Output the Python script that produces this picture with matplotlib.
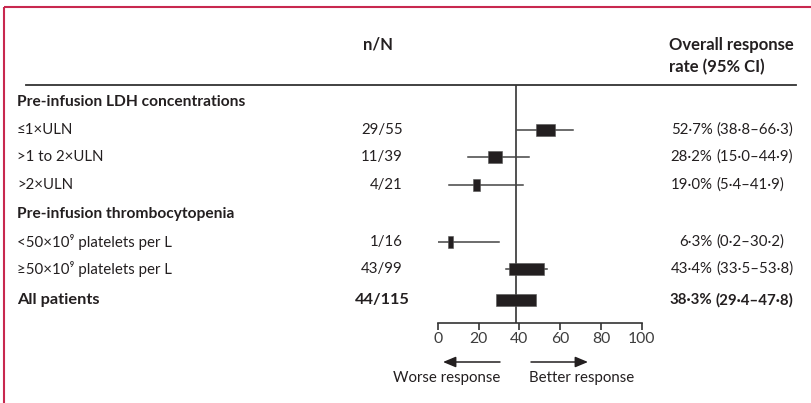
import matplotlib.pyplot as plt
from matplotlib.patches import Rectangle

plt.rcParams['font.family'] = ['Lato', 'DejaVu Sans']

# subgroup table
labels = ['Pre-infusion LDH concentrations', '≤1×ULN', '>1 to 2×ULN', '>2×ULN',
          'Pre-infusion thrombocytopenia', '<50×10⁹ platelets per L',
          '≥50×10⁹ platelets per L', 'All patients']
is_header = [True, False, False, False, True, False, False, False]
is_total = [False, False, False, False, False, False, False, True]
responders = [None, 29, 11, 4, None, 1, 43, 44]
totals = [None, 55, 39, 21, None, 16, 99, 115]
rate = [None, 52.7, 28.2, 19.0, None, 6.3, 43.4, 38.3]
ci_low = [None, 38.8, 15.0, 5.4, None, 0.2, 33.5, 29.4]
ci_high = [None, 66.3, 44.9, 41.9, None, 30.2, 53.8, 47.8]
xticks = [0, 20, 40, 60, 80, 100]

# layout (pixels, origin top-left)
W, H = 811, 403
row_y = [102, 130, 157, 185, 214, 242, 269, 300]
rule_y = 85
axis_y = 322.7
x0_px, x100_px = 437.7, 641.7
ink = '#231f20'
fs = 10.8
fs_head = 11.2
fs_total = 11.8
fs_col = 12


def fmt(v):
    return f'{v:.1f}'.replace('.', '·')


fig = plt.figure(figsize=(W / 100, H / 100), dpi=100)
bg = fig.add_axes([0, 0, 1, 1])
bg.set_xlim(0, W)
bg.set_ylim(H, 0)
bg.axis('off')

# panel frame
bg.plot([3.5, 3.5], [6.5, H], color='#c8284f', lw=1.5, solid_capstyle='butt')
bg.plot([3.5, W], [6.5, 6.5], color='#c8284f', lw=1.5, solid_capstyle='butt')

# column headers
bg.text(363, 45, 'n/N', fontsize=fs_col, fontweight='bold', color=ink, va='center')
bg.text(669, 45, 'Overall response', fontsize=fs_col, fontweight='bold', color=ink, va='center')
bg.text(669, 67, 'rate (95% CI)', fontsize=fs_col, fontweight='bold', color=ink, va='center')
bg.plot([26, 796], [rule_y, rule_y], color='#333333', lw=1.3)

for i, y in enumerate(row_y):
    if is_header[i]:
        bg.text(17, y, labels[i], fontsize=fs_head, fontweight='bold', color=ink, va='center')
        continue
    bold = 'bold' if is_total[i] else 'normal'
    size = fs_total if is_total[i] else fs
    nx = 410 if is_total[i] else 403
    bg.text(17, y, labels[i], fontsize=size, fontweight=bold, color=ink, va='center')
    bg.text(nx, y, f'{responders[i]}/{totals[i]}', fontsize=size, fontweight=bold,
            color=ink, va='center', ha='right')
    bg.text(712.5, y, fmt(rate[i]) + '%', fontsize=fs, fontweight=bold,
            color=ink, va='center', ha='right')
    bg.text(716, y, f'({fmt(ci_low[i])}–{fmt(ci_high[i])})', fontsize=fs,
            fontweight=bold, color=ink, va='center', ha='left')

# forest panel, y shares the pixel scale of the background
ax = fig.add_axes([x0_px / W, (H - axis_y) / H, (x100_px - x0_px) / W, (axis_y - rule_y) / H])
ax.set_xlim(0, 100)
ax.set_ylim(axis_y, rule_y)
ax.patch.set_alpha(0)
for s in ['top', 'right', 'left']:
    ax.spines[s].set_visible(False)
ax.spines['bottom'].set_color('#333333')
ax.spines['bottom'].set_linewidth(1.2)
ax.set_yticks([])
ax.set_xticks(xticks)
ax.tick_params(axis='x', direction='out', length=5, width=1.2, color='#333333',
               labelsize=fs + 0.5, labelcolor='#3d3d3d', pad=2)

overall = rate[is_total.index(True)]
ax.axvline(overall, color='#333333', lw=1.2)

for i, y in enumerate(row_y):
    if is_header[i]:
        continue
    ax.plot([ci_low[i], ci_high[i]], [y, y], color='#444444', lw=1.1, zorder=2)
    w = totals[i] * 0.172
    ax.add_patch(Rectangle((rate[i] - w / 2, y - 6), w, 12, facecolor=ink,
                           edgecolor='#555555', lw=0.4, zorder=3))

# direction arrows
arrow = dict(arrowstyle='-|>,head_length=0.55,head_width=0.23', color=ink,
             lw=1.1, mutation_scale=14, shrinkA=0, shrinkB=0)
bg.annotate('', xy=(443, 362), xytext=(500, 362), arrowprops=arrow)
bg.annotate('', xy=(588, 362), xytext=(531, 362), arrowprops=arrow)
bg.text(447, 378, 'Worse response', fontsize=fs, color=ink, ha='center', va='center')
bg.text(582, 378, 'Better response', fontsize=fs, color=ink, ha='center', va='center')

fig.savefig('out.png', dpi=100)
